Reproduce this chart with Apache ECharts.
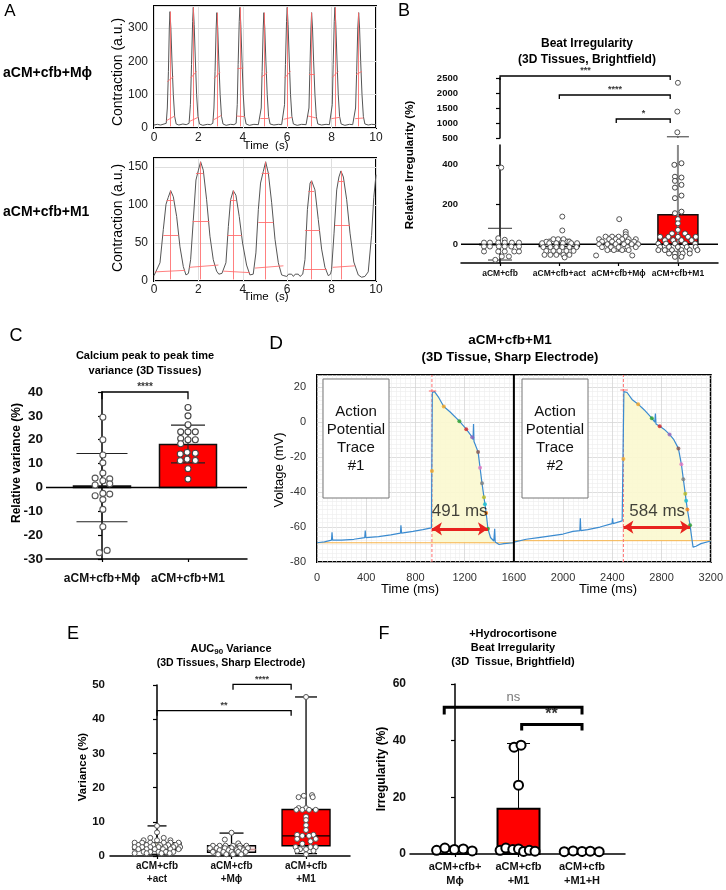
<!DOCTYPE html>
<html>
<head>
<meta charset="utf-8">
<script src="https://cdn.jsdelivr.net/npm/echarts@6.0.0/dist/echarts.min.js"></script>
<style>
html, body { margin: 0; padding: 0; background: #fff; }
#fig { width: 726px; height: 890px; }
</style>
</head>
<body>
<div id="fig"></div>
<script>
var FONT = '"Liberation Sans", Arial, sans-serif';

/* ---------- A : contraction traces (time s, a.u.) ---------- */
var aTopTrace = [
  [0,9],[0.15,11],[0.3,9],[0.45,12],[0.55,14],
  [0.6,60],[0.65,170],[0.69,300],[0.72,349],[0.76,300],[0.81,200],[0.87,100],[0.93,35],[1.0,12],[1.12,9],[1.3,12],[1.45,10],[1.58,14],
  [1.64,70],[1.69,190],[1.74,320],[1.77,362],[1.81,310],[1.86,210],[1.92,100],[1.98,35],[2.05,12],[2.2,8],[2.4,11],[2.55,10],[2.65,14],
  [2.7,60],[2.75,170],[2.8,300],[2.83,346],[2.87,300],[2.92,200],[2.98,100],[3.04,35],[3.11,12],[3.25,8],[3.45,11],[3.6,10],[3.7,14],
  [3.75,70],[3.79,190],[3.84,320],[3.87,362],[3.91,310],[3.96,210],[4.02,100],[4.08,35],[4.15,12],[4.3,8],[4.5,11],[4.7,10],[4.78,14],
  [4.83,60],[4.87,170],[4.92,300],[4.95,346],[4.99,300],[5.04,200],[5.1,100],[5.16,35],[5.23,12],[5.4,9],[5.6,11],[5.75,10],[5.83,14],
  [5.88,70],[5.92,190],[5.97,320],[6.0,362],[6.04,310],[6.09,210],[6.15,100],[6.21,35],[6.28,12],[6.45,8],[6.65,11],[6.85,10],[6.93,14],
  [6.98,60],[7.02,170],[7.07,300],[7.1,346],[7.14,300],[7.19,200],[7.25,100],[7.31,35],[7.38,12],[7.55,9],[7.75,11],[7.9,10],[7.98,14],
  [8.03,70],[8.07,190],[8.12,320],[8.15,362],[8.19,310],[8.24,210],[8.3,100],[8.36,35],[8.43,12],[8.6,8],[8.8,11],[8.95,10],[9.03,14],
  [9.08,60],[9.13,170],[9.18,300],[9.22,346],[9.26,300],[9.31,200],[9.37,100],[9.43,35],[9.5,12],[9.65,9],[9.8,11],[10,10]
];
var aTopPeakT = [0.72, 1.77, 2.83, 3.87, 4.95, 6.0, 7.1, 8.15, 9.22];
var aTopPeakV = [349, 362, 346, 362, 346, 362, 346, 362, 346];
var aTopSegs = [
  [0.60,139,0.87,154],[0.56,22,0.93,36],
  [1.65,150,1.92,170],[1.61,20,1.98,32],
  [2.71,148,2.98,168],[2.67,24,3.04,38],
  [3.75,178,4.02,180],[3.71,36,4.08,34],
  [4.83,152,5.10,166],[4.79,30,5.16,30],
  [5.88,150,6.15,170],[5.84,26,6.21,32],
  [6.98,161,7.25,161],[6.94,36,7.31,30],
  [8.03,152,8.30,170],[7.99,28,8.36,32],
  [9.10,160,9.37,170],[9.06,28,9.43,30]
];

var aBotTrace = [
  [0,7],[0.09,8],[0.27,24],[0.42,68],[0.54,101],[0.64,110],[0.75,119],[0.87,111],[1.02,85],[1.17,45],[1.32,19],[1.44,8],[1.55,10],
  [1.65,28],[1.77,80],[1.89,133],[2.0,146],[2.1,157],[2.22,146],[2.37,107],[2.52,59],[2.67,28],[2.82,13],[2.92,9],[3.0,7],[3.06,10],[3.12,8],
  [3.24,24],[3.35,72],[3.45,107],[3.57,119],[3.69,113],[3.84,85],[3.99,50],[4.17,21],[4.32,8],[4.4,10],[4.47,9],
  [4.59,37],[4.7,94],[4.8,129],[4.92,144],[5.03,157],[5.15,142],[5.3,103],[5.45,55],[5.6,24],[5.75,8],[5.85,7],[5.98,6],[6.06,9],[6.13,7],
  [6.2,9],[6.28,6],[6.36,9],[6.43,7],[6.5,9],[6.58,6],[6.7,9],
  [6.8,28],[6.91,94],[7.03,129],[7.1,132],[7.25,120],[7.4,81],[7.55,42],[7.7,18],[7.85,7],[7.95,9],
  [8.0,15],[8.11,63],[8.23,120],[8.33,137],[8.42,145],[8.53,137],[8.68,107],[8.83,63],[9.0,25],[9.2,8],[9.35,5],[9.5,6],[9.65,12],
  [9.8,60],[9.9,110],[10,140]
];
var aBotPeakT = [0.75, 2.1, 3.57, 5.03, 7.08, 8.42];
var aBotPeakV = [119, 157, 119, 157, 132, 145];
var aBotSegs = [
  [0.57,107,0.87,107],[0.42,60,1.10,60],[0.05,12,1.40,14],
  [1.89,142,2.22,142],[1.74,79,2.49,79],[1.59,18,2.90,21],
  [3.42,107,3.69,107],[3.30,60,3.95,60],[3.12,13,4.32,11],
  [4.85,142,5.20,142],[4.70,78,5.38,78],[4.55,17,5.83,20],
  [6.95,118,7.21,118],[6.80,67,7.48,67],[6.73,16,7.78,16],
  [8.30,131,8.56,131],[8.15,74,8.83,74],[8.05,18,9.05,20]
];

/* ---------- D : action potentials (ms, mV) ---------- */
var apTrace1 = [
  [0,-69],[60,-68.5],[118,-67.5],[122,-63],[127,-67.5],[200,-67.5],[300,-67],[388,-66],[392,-62],[397,-66],[500,-65.5],[600,-64.5],
  [678,-63.5],[682,-59],[687,-63.5],[780,-62.5],[860,-61.5],[930,-60.5],[934,-60],[937,17],[955,17.5],[990,14],[1030,9],[1080,6],
  [1157,0.6],[1213,-4],[1261,-8.6],[1268,-10],[1272,-1],[1276,-11],[1309,-17],[1325,-26],[1341,-35],[1357,-43],[1365,-47],[1375,-52],
  [1389,-61],[1410,-66],[1437,-68],[1444,-61],[1448,-68.5],[1480,-70],[1520,-69.5],[1600,-69]
];
var apTrace2 = [
  [1600,-68.6],[1700,-67],[1800,-66],[1900,-65],[2000,-64],[2080,-62.5],[2136,-62],[2140,-55],[2144,-62],[2200,-61.5],[2300,-60],
  [2398,-58],[2402,-55],[2406,-58],[2480,-56.5],[2490,-56],[2494,17.5],[2520,17],[2560,13],[2610,10.3],[2660,7],[2721,2.3],
  [2745,0],[2750,5],[2755,-1],[2785,-2.3],[2820,-4],[2865,-7],[2900,-10],[2937,-15],[2961,-24],[2977,-32.6],[2993,-41],[3000,-45],
  [3010,-50],[3032,-59],[3045,-66],[3056,-71.5],[3080,-71],[3120,-69.5],[3200,-68]
];
var apUpstroke = [934, 2490];
var apEnd = [1437, 3056];
var apBase = [-69, -67.8];
var apBaseRange = [[0, 1600], [1600, 3200]];
var apPeakTick = [17.8, 18.3];
var apDots1 = [[934,-28],[1030,9],[1157,0.6],[1213,-4],[1261,-8.6],[1309,-17],[1325,-26],[1341,-35],[1357,-43],[1365,-47],[1375,-52],[1389,-61]];
var apDots2 = [[2490,-21],[2610,10.3],[2721,2.3],[2785,-2.3],[2865,-7],[2937,-15],[2961,-24],[2977,-32.6],[2993,-41],[3000,-45],[3010,-50],[3032,-59]];
var apDotColors = ['#f5a623','#f5a623','#2ca02c','#d62728','#9467bd','#8c564b','#e377c2','#7f7f7f','#bcbd22','#17becf','#ff7f0e','#2ca02c'];
var apArrows = [[934, 1389, -61], [2490, 3032, -60]];
var apLabels = ['491 ms', '584 ms'];
var apLabelAt = [[1160, -51], [2765, -51]];

/* ---------- B : beat irregularity ---------- */
var bCats = ['aCM+cfb', 'aCM+cfb+act', 'aCM+cfb+M\u03d5', 'aCM+cfb+M1'];
var bMean = [0, -12, 5, 148];
var bErrLo = [-80, -50, -35, -90];
var bErrHi = [80, 25, 40, 540];
var bDotsCfb = [[0.02,386],[-0.03,30],[0.08,22],
  [-0.27,8],[-0.17,8],[-0.03,8],[0.08,8],[0.2,8],[0.32,8],
  [-0.27,-12],[-0.17,-12],[-0.02,-12],[0.08,-12],[0.19,-12],[0.32,-12],
  [-0.27,-37],[-0.03,-37],[0.08,-37],[0.24,-37],[0.32,-37],
  [0.15,-62],[0.03,-62],[-0.08,-79]];
var bDotsAct = [[0.05,139],[0.05,69],
  [-0.1,25],[-0.02,25],[0.07,25],[-0.22,12],[0.17,12],
  [-0.29,5],[-0.17,5],[-0.05,5],[0.06,5],[0.2,5],[0.3,5],
  [-0.27,-15],[-0.15,-15],[-0.05,-15],[0.05,-15],[0.17,-15],[0.29,-15],
  [-0.22,-34],[-0.1,-34],[0,-34],[0.12,-34],[0.24,-34],
  [-0.25,-54],[-0.15,-54],[-0.05,-54],[0.07,-54],[0.17,-54],[0.09,-67]];
var bDotsMphi = [[0.01,126],[0.12,62],[0.12,50],
  [-0.22,38],[-0.11,38],[0,38],[0.12,38],
  [-0.33,25],[-0.16,25],[-0.05,25],[0.06,25],[0.17,25],[0.29,25],
  [-0.28,13],[-0.11,13],[0,13],[0.15,13],[0.26,13],
  [-0.33,0],[-0.19,0],[-0.05,0],[0.09,0],[0.22,0],[0.33,0],
  [-0.28,-15],[-0.13,-15],[0,-15],[0.15,-15],[0.29,-15],
  [-0.19,-30],[-0.08,-30],[0.06,-30],[0.17,-30],[-0.38,-57],[0.23,-57]];
var bDotsM1 = [[-0.06,400],[0.06,408],[-0.05,340],[0.06,336],[-0.05,319],[0.06,299],[-0.05,285],[0.06,245],[-0.05,232],
  [0.06,164],[-0.05,156],[0,126],[0,105],[0,72],[-0.1,54],[0.12,54],
  [-0.3,37],[-0.16,37],[0,37],[0.17,37],[0.3,37],
  [-0.22,20],[-0.08,20],[0.06,20],[0.23,20],
  [-0.33,3],[-0.2,3],[-0.05,3],[0.12,3],[0.29,3],
  [-0.3,-14],[-0.15,-14],[0,-14],[0.15,-14],[0.3,-14],
  [-0.33,-30],[-0.22,-30],[-0.1,-30],[0.06,-30],[0.2,-30],[0.33,-30],
  [-0.15,-47],[-0.05,-47],[0.08,-47],[0.2,-47],[-0.05,-64],[0.06,-64]];
var bDotsM1High = [[0,2340],[-0.01,1380],[-0.01,690]];
var bBrackets = [[0, 2.87, 2567, 2433], [1, 2.87, 1933, 1800], [1.96, 2.87, 1133, 1000]];
var bStars = [[1.44, 2740, '***'], [1.94, 2110, '****'], [2.42, 1310, '*']];

/* ---------- C : calcium peak-to-peak variance ---------- */
var cCats = ['aCM+cfb+M\u03d5', 'aCM+cfb+M1'];
var cMean = [0.6, 18];
var cErrLo = [-14.4, 10.3];
var cErrHi = [14.2, 26.1];
var cDotsMphi = [[0.01,29.4],[0.01,20],[0.01,13.6],[0.01,10.3],[0.01,6],[-0.08,3.9],[0.09,3.6],[0.01,2.8],
  [-0.08,1],[0.09,1.5],[-0.08,-3.5],[0.01,-2.5],[0.09,-2.8],[0.01,-5.1],[0.01,-9.2],[0.01,-16.5],[0.06,-26.4],[-0.03,-27.4]];
var cDotsM1 = [[0,33.5],[0,30],[0,26.3],[-0.085,23.3],[0,23.3],[0.085,23.3],[-0.085,20.5],[0,20],[0.085,20],
  [-0.085,18.3],[-0.09,14],[-0.01,14.7],[0.085,14.3],[-0.09,11.2],[-0.01,11.8],[0.085,11.3],[0,7.8],[0,3.5]];
var cBracket = [[0, 1, 40, 37]];
var cStars = [[0.5, 41.8, '****']];

/* ---------- E : AUC90 variance (box plots) ---------- */
var eCats = ['aCM+cfb\n+act', 'aCM+cfb\n+M\u03d5', 'aCM+cfb\n+M1'];
var eBox = [[0.5, 1.9, 3.0, 3.9, 8.8], [0.3, 1.1, 1.9, 3.0, 6.7], [0.7, 3.0, 5.9, 13.6, 46.5]];
var eDotsAct = [[0,8.8],[0,6.9],[-0.09,5.3],[0.09,5.3],[-0.18,4.6],[0,4.6],[0.18,4.6],
  [-0.3,3.9],[-0.2,3.9],[-0.09,3.9],[0.09,3.9],[0.18,3.9],[0.29,3.9],
  [-0.25,3.2],[-0.14,3.2],[-0.05,3.2],[0.04,3.2],[0.15,3.2],[0.25,3.2],
  [-0.3,2.6],[-0.2,2.6],[-0.09,2.6],[0.02,2.6],[0.11,2.6],[0.22,2.6],[0.31,2.6],
  [-0.25,2.0],[-0.14,2.0],[-0.03,2.0],[0.08,2.0],[0.18,2.0],[0.29,2.0],
  [-0.18,1.2],[-0.09,1.2],[0.02,1.2],[0.12,1.2],[0.22,1.2],[-0.3,0.8],[-0.14,0.8],[0.06,0.8],[0.17,0.8]];
var eDotsMphi = [[0,6.8],[-0.09,4.8],[0.09,3.7],
  [-0.25,3.0],[-0.16,3.0],[-0.08,3.0],[0.02,3.0],[0.11,3.0],[0.2,3.0],
  [-0.29,2.3],[-0.2,2.3],[-0.09,2.3],[0,2.3],[0.11,2.3],[0.22,2.3],
  [-0.16,1.7],[-0.04,1.7],[0.07,1.7],[0.16,1.7],
  [-0.25,1.2],[-0.11,1.2],[0,1.2],[0.09,1.2],[0.19,1.2],[-0.18,0.5],[-0.07,0.5],[0.02,0.5],[0.13,0.5]];
var eDotsM1 = [[0,46.5],[-0.03,17.6],[0.08,17.8],[-0.1,17.2],[0.09,17.2],
  [-0.1,14],[0,14],[-0.13,13.5],[-0.05,13.5],[0.04,13.5],[0.13,13.5],
  [0,11.5],[0,10.5],[0,9],[0,7.6],[-0.12,6.2],[0.1,6.2],[-0.05,5.9],[0.04,5.9],
  [-0.12,5],[0.13,5],[0.06,4.3],[-0.05,3.6],[-0.14,2.6],[0.06,2.6],[0.13,2.6],
  [-0.08,2],[0,2],[-0.12,1.5],[0.1,1.5],[0,0.5]];
var eBrackets = [[0, 1.8, 42.5, 41], [1.02, 1.8, 50.2, 48.6]];
var eStars = [[0.9, 44.1, '**'], [1.41, 51.7, '****']];

/* ---------- F : hydrocortisone beat irregularity ---------- */
var fCats = ['aCM+cfb+\nM\u03d5', 'aCM+cfb\n+M1', 'aCM+cfb\n+M1+H'];
var fMean = [1.6, 16, 0.9];
var fErrHi = [1.6, 39, 0.9];
var fDotsMphi = [[-0.29,1.3],[-0.16,2.1],[-0.01,1.6],[0.13,1.8],[0.27,1.1]];
var fDotsM1 = [[-0.07,37.7],[0.04,38.4],[0,24.3],[-0.29,1.3],[-0.2,2.1],[-0.09,1.6],[0,1.8],[0.08,0.9],[0.17,1.3],[0.26,1.0]];
var fDotsH = [[-0.28,0.8],[-0.14,1.1],[0,0.9],[0.13,1.0],[0.27,0.8]];
var fBrackets = [[-0.17, 2.0, 51.8, 49.2], [1.05, 2.0, 45.7, 43.6]];

/* ---------- helpers ---------- */
function idx(arr) { return arr.map(function (c, i) { return i; }); }
function plain(v) { return String(v); }

function catXAxis(gi, min, max, cats, margin, size, lh) {
  return {
    type: 'value', gridIndex: gi, min: min, max: max,
    axisLine: { show: true, onZero: false, lineStyle: { color: '#000', width: 1.5 } },
    axisTick: { show: true, length: 3, customValues: idx(cats), lineStyle: { color: '#000', width: 1.2 } },
    axisLabel: { customValues: idx(cats), formatter: function (v) { return cats[Math.round(v)] || ''; },
      margin: margin, fontFamily: FONT, fontWeight: 'bold', fontSize: size, color: '#111', lineHeight: lh },
    splitLine: { show: false }
  };
}

function prismYAxis(gi, min, max, interval, size, margin, extra) {
  return Object.assign({
    type: 'value', gridIndex: gi, min: min, max: max, interval: interval,
    axisLine: { show: true, lineStyle: { color: '#000', width: 1.5 } },
    axisTick: { show: true, length: 4, lineStyle: { color: '#000', width: 1.2 } },
    axisLabel: { margin: margin, fontFamily: FONT, fontWeight: 'bold', fontSize: size, color: '#111', formatter: plain },
    splitLine: { show: false }
  }, extra || {});
}

function dotSeries(gi, ci, pts, size, border, bw, z) {
  return {
    type: 'scatter', xAxisIndex: gi, yAxisIndex: gi, z: z || 5, symbol: 'circle', symbolSize: size,
    data: pts.map(function (p) { return [ci + p[0], p[1]]; }),
    itemStyle: { color: '#fff', borderColor: border, borderWidth: bw, opacity: 1 },
    emphasis: { disabled: true }, silent: true
  };
}

function barSeries(gi, means, w, fills, stroke, lw, z) {
  return {
    type: 'custom', xAxisIndex: gi, yAxisIndex: gi, z: z || 2, silent: true,
    data: means.map(function (m, i) { return [i, m]; }),
    renderItem: function (params, api) {
      var p0 = api.coord([api.value(0), 0]), p1 = api.coord([api.value(0), api.value(1)]);
      return { type: 'rect',
        shape: { x: p0[0] - w / 2, y: Math.min(p0[1], p1[1]), width: w, height: Math.max(Math.abs(p1[1] - p0[1]), 0.5) },
        style: { fill: fills[params.dataIndex], stroke: stroke, lineWidth: lw } };
    }
  };
}

function errSeries(gi, xs, lo, hi, capHi, capLo, color, lw, z) {
  return {
    type: 'custom', xAxisIndex: gi, yAxisIndex: gi, z: z || 3, silent: true,
    data: lo.map(function (l, i) { return [xs[i], l, hi[i]]; }),
    renderItem: function (params, api) {
      var i = params.dataIndex, x = api.value(0);
      var a = api.coord([x, api.value(1)]), b = api.coord([x, api.value(2)]);
      var st = { stroke: color, lineWidth: lw };
      var ch = [{ type: 'line', shape: { x1: a[0], y1: a[1], x2: b[0], y2: b[1] }, style: st }];
      if (capHi[i]) ch.push({ type: 'line', shape: { x1: b[0] - capHi[i] / 2, y1: b[1], x2: b[0] + capHi[i] / 2, y2: b[1] }, style: st });
      if (capLo[i]) ch.push({ type: 'line', shape: { x1: a[0] - capLo[i] / 2, y1: a[1], x2: a[0] + capLo[i] / 2, y2: a[1] }, style: st });
      return { type: 'group', children: ch };
    }
  };
}

function bracketSeries(gi, list, lw) {
  return {
    type: 'lines', coordinateSystem: 'cartesian2d', xAxisIndex: gi, yAxisIndex: gi, polyline: true, z: 6, clip: false, silent: true,
    data: list.map(function (b) { return { coords: [[b[0], b[3]], [b[0], b[2]], [b[1], b[2]], [b[1], b[3]]] }; }),
    lineStyle: { color: '#000', width: lw, opacity: 1 }
  };
}

function textSeries(gi, list, font) {
  return {
    type: 'scatter', xAxisIndex: gi, yAxisIndex: gi, z: 7, symbolSize: 1, clip: false, silent: true,
    itemStyle: { color: 'rgba(0,0,0,0)' },
    data: list.map(function (t) { return { value: [t[0], t[1]], label: { formatter: t[2] } }; }),
    label: Object.assign({ show: true, position: 'inside', color: '#000', fontFamily: FONT }, font)
  };
}

function hLine(gi, x1, x2, y, color, w, z, type) {
  return { type: 'line', xAxisIndex: gi, yAxisIndex: gi, data: [[x1, y], [x2, y]], symbol: 'none', silent: true,
    lineStyle: { color: color, width: w, type: type || 'solid' }, z: z || 4 };
}

function redMarks(gi, peakT, peakV, base, segs) {
  var d = peakT.map(function (t, i) { return { coords: [[t, base], [t, peakV[i]]] }; });
  segs.forEach(function (s) { d.push({ coords: [[s[0], s[1]], [s[2], s[3]]] }); });
  return { type: 'lines', coordinateSystem: 'cartesian2d', xAxisIndex: gi, yAxisIndex: gi, z: 4, silent: true,
    data: d, lineStyle: { color: '#ff6a6a', width: 1, opacity: 0.85 } };
}

/* ---------- axes ---------- */
var aXAxis = function (gi, margin) {
  return { type: 'value', gridIndex: gi, min: 0, max: 10, interval: 2,
    axisLine: { show: false }, axisTick: { show: false },
    axisLabel: { margin: margin, fontFamily: FONT, fontSize: 12, color: '#222' },
    splitLine: { show: true, lineStyle: { color: '#dedede', width: 1 } } };
};
var aYAxis = function (gi, max, interval) {
  return { type: 'value', gridIndex: gi, min: 0, max: max, interval: interval,
    axisLine: { show: false }, axisTick: { show: false },
    axisLabel: { margin: 6, fontFamily: FONT, fontSize: 12, color: '#222', showMaxLabel: false },
    splitLine: { show: true, lineStyle: { color: '#dedede', width: 1 } } };
};

var xAxes = [
  aXAxis(0, 4),
  aXAxis(1, 3),
  { type: 'value', gridIndex: 2, min: -0.658, max: 3.676, show: false },
  catXAxis(3, -0.658, 3.676, bCats, 6, 8.5, 10),
  catXAxis(4, -0.651, 1.686, cCats, 13, 12, 14),
  { type: 'value', gridIndex: 5, min: 0, max: 3200, interval: 400,
    axisLine: { show: false }, axisTick: { show: false },
    axisLabel: { margin: 10, fontFamily: FONT, fontSize: 11, color: '#333', formatter: plain },
    minorTick: { show: false, splitNumber: 10 },
    splitLine: { show: true, lineStyle: { color: '#d6d6d6', width: 0.8 } },
    minorSplitLine: { show: true, lineStyle: { color: '#ececec', width: 0.6 } } },
  catXAxis(6, -0.631, 2.59, eCats, 4, 10, 13),
  catXAxis(7, -0.709, 2.677, fCats, 6, 11, 14)
];

var yAxes = [
  aYAxis(0, 366, 100),
  aYAxis(1, 162, 50),
  prismYAxis(2, 500, 2500, 500, 9.5, 3),
  prismYAxis(3, -95, 500, null, 9.5, 3, {
    axisTick: { show: true, length: 4, customValues: [0, 200, 400], lineStyle: { color: '#000', width: 1.2 } },
    axisLabel: { customValues: [0, 200, 400], margin: 3, fontFamily: FONT, fontWeight: 'bold', fontSize: 9.5, color: '#111' } }),
  prismYAxis(4, -30, 40, 10, 13.5, 3),
  { type: 'value', gridIndex: 5, min: -80, max: 27, interval: 20,
    axisLine: { show: false }, axisTick: { show: false },
    axisLabel: { margin: 11, fontFamily: FONT, fontSize: 11, color: '#333', showMaxLabel: false },
    minorTick: { show: false, splitNumber: 8 },
    splitLine: { show: true, lineStyle: { color: '#d6d6d6', width: 0.8 } },
    minorSplitLine: { show: true, lineStyle: { color: '#ececec', width: 0.6 } } },
  prismYAxis(6, 0, 50, 10, 11.5, 5),
  prismYAxis(7, 0, 60, 20, 12, 4)
];

var grids = [
  { left: 154, top: 6, width: 222, height: 122, show: true, borderColor: '#000', borderWidth: 2 },
  { left: 154, top: 158, width: 222, height: 123, show: true, borderColor: '#000', borderWidth: 2 },
  { left: 461, top: 78, width: 257, height: 60 },
  { left: 461, top: 145, width: 257, height: 118 },
  { left: 46, top: 392, width: 201, height: 167 },
  { left: 317, top: 375, width: 401, height: 187, show: true, borderColor: '#000', borderWidth: 2 },
  { left: 110, top: 685, width: 240, height: 171 },
  { left: 410, top: 684, width: 215, height: 170 }
];

/* ---------- series ---------- */
var series = [];

// A
series.push({ type: 'line', xAxisIndex: 0, yAxisIndex: 0, data: aTopTrace, symbol: 'none', silent: true,
  lineStyle: { color: '#555', width: 1 }, z: 3 });
series.push(redMarks(0, aTopPeakT, aTopPeakV, 5, aTopSegs));
series.push({ type: 'line', xAxisIndex: 1, yAxisIndex: 1, data: aBotTrace, symbol: 'none', silent: true,
  lineStyle: { color: '#555', width: 1 }, z: 3 });
series.push(redMarks(1, aBotPeakT, aBotPeakV, 2, aBotSegs));

// B
series.push(hLine(3, -0.658, 3.676, 0, '#000', 1.5, 4));
series.push(barSeries(3, bMean, 40, ['none', 'none', 'none', '#ff0000'], '#111', 1.5, 2));
series.push(errSeries(3, [0, 1, 2], bErrLo.slice(0, 3), bErrHi.slice(0, 3), [24, 22, 22], [24, 22, 22], '#333', 1, 3));
series.push(errSeries(3, [3], [bErrLo[3]], [500], [0], [0], '#8a8a8a', 2, 3));
series.push(errSeries(2, [3], [500], [bErrHi[3]], [22], [0], '#333', 1, 3));
series.push(dotSeries(3, 0, bDotsCfb, 5, '#555', 1));
series.push(dotSeries(3, 1, bDotsAct, 5, '#555', 1));
series.push(dotSeries(3, 2, bDotsMphi, 5, '#555', 1));
series.push(dotSeries(3, 3, bDotsM1, 5, '#444', 1));
series.push(dotSeries(2, 3, bDotsM1High, 5, '#555', 1));
series.push(bracketSeries(2, bBrackets, 1.3));
series.push(textSeries(2, bStars, { fontSize: 9, fontWeight: 'bold' }));

// C
series.push(barSeries(4, cMean, 57, ['#fff', '#ff0000'], '#111', 1.5, 2));
series.push(hLine(4, -0.651, 1.686, 0, '#000', 1.5, 4));
series.push(errSeries(4, [0, 1], cErrLo, cErrHi, [51, 34], [51, 34], '#222', 1.1, 3));
series.push(dotSeries(4, 0, cDotsMphi, 6, '#555', 1.1));
series.push(dotSeries(4, 1, cDotsM1, 6, '#444', 1.1));
series.push(bracketSeries(4, cBracket, 1.3));
series.push(textSeries(4, cStars, { fontSize: 10, fontWeight: 'bold' }));

// D
function apFill(trace, k) {
  var pts = trace.filter(function (p) { return p[0] >= apUpstroke[k] && p[0] <= apEnd[k]; });
  pts = pts.concat([[apEnd[k], apBase[k]], [apUpstroke[k], apBase[k]]]);
  return { type: 'custom', xAxisIndex: 5, yAxisIndex: 5, z: 2, silent: true, data: [[apUpstroke[k], apBase[k]]],
    renderItem: function (params, api) {
      return { type: 'polygon', shape: { points: pts.map(function (p) { return api.coord(p); }) },
        style: { fill: '#fbf8cf', opacity: 0.9 } };
    } };
}
series.push(apFill(apTrace1, 0));
series.push(apFill(apTrace2, 1));
apBase.forEach(function (b, k) {
  series.push(hLine(5, apBaseRange[k][0], apBaseRange[k][1], b, '#f7b34a', 1, 3));
  series.push({ type: 'line', xAxisIndex: 5, yAxisIndex: 5, data: [[apUpstroke[k], -80], [apUpstroke[k], 27]], symbol: 'none',
    silent: true, lineStyle: { color: '#ff7070', width: 1, type: [3, 2] }, z: 3 });
});
[apTrace1, apTrace2].forEach(function (tr) {
  series.push({ type: 'line', xAxisIndex: 5, yAxisIndex: 5, data: tr, symbol: 'none', silent: true,
    lineStyle: { color: '#3b8bd0', width: 1.2 }, z: 4 });
});
[apDots1, apDots2].forEach(function (ds) {
  series.push({ type: 'scatter', xAxisIndex: 5, yAxisIndex: 5, symbolSize: 4, z: 5, silent: true,
    data: ds.map(function (p, i) { return { value: p, itemStyle: { color: apDotColors[i] } }; }) });
});
series.push({ type: 'lines', coordinateSystem: 'cartesian2d', xAxisIndex: 5, yAxisIndex: 5, z: 6, silent: true,
  data: apUpstroke.map(function (u, k) { return { coords: [[u - 25, apPeakTick[k]], [u + 35, apPeakTick[k]]] }; }),
  lineStyle: { color: '#ff3b3b', width: 1.5 } });
series.push({ type: 'lines', coordinateSystem: 'cartesian2d', xAxisIndex: 5, yAxisIndex: 5, z: 7, silent: true,
  symbol: ['arrow', 'arrow'], symbolSize: 10,
  data: apArrows.map(function (a) { return { coords: [[a[0], a[2]], [a[1], a[2]]] }; }),
  lineStyle: { color: '#e8231e', width: 3, opacity: 1 } });
series.push(textSeries(5, apLabels.map(function (t, k) { return [apLabelAt[k][0], apLabelAt[k][1], t]; }),
  { fontSize: 17, color: '#111' }));
series.push({ type: 'line', xAxisIndex: 5, yAxisIndex: 5, data: [[1600, -80], [1600, 27]], symbol: 'none', silent: true,
  lineStyle: { color: '#000', width: 2 }, z: 8 });

// E
series.push({
  type: 'custom', xAxisIndex: 6, yAxisIndex: 6, z: 2, silent: true,
  data: eBox.map(function (b, i) { return [i].concat(b); }),
  renderItem: function (params, api) {
    var i = params.dataIndex, x = api.value(0), w = 48, cap = [19, 24, 22][i];
    var fills = ['#efe9cc', '#f7e8e8', '#ff0000'], meds = ['#9a8f6a', '#d59a9a', '#000'];
    var p = [1, 2, 3, 4, 5].map(function (d) { return api.coord([x, api.value(d)]); });
    var st = { stroke: '#000', lineWidth: 1.3 };
    return { type: 'group', children: [
      { type: 'line', shape: { x1: p[0][0], y1: p[0][1], x2: p[1][0], y2: p[1][1] }, style: st },
      { type: 'line', shape: { x1: p[3][0], y1: p[3][1], x2: p[4][0], y2: p[4][1] }, style: st },
      { type: 'line', shape: { x1: p[0][0] - cap / 2, y1: p[0][1], x2: p[0][0] + cap / 2, y2: p[0][1] }, style: st },
      { type: 'line', shape: { x1: p[4][0] - cap / 2, y1: p[4][1], x2: p[4][0] + cap / 2, y2: p[4][1] }, style: st },
      { type: 'rect', shape: { x: p[1][0] - w / 2, y: p[3][1], width: w, height: p[1][1] - p[3][1] },
        style: { fill: fills[i], stroke: '#000', lineWidth: 1.3 } },
      { type: 'line', shape: { x1: p[2][0] - w / 2, y1: p[2][1], x2: p[2][0] + w / 2, y2: p[2][1] },
        style: { stroke: meds[i], lineWidth: 1.3 } }
    ] };
  }
});
series.push(dotSeries(6, 0, eDotsAct, 5, '#555', 1));
series.push(dotSeries(6, 1, eDotsMphi, 5, '#555', 1));
series.push(dotSeries(6, 2, eDotsM1, 5, '#555', 1));
series.push(bracketSeries(6, eBrackets, 1.3));
series.push(textSeries(6, eStars, { fontSize: 9, fontWeight: 'bold' }));

// F
series.push(barSeries(7, fMean, 42, ['#fff', '#ff0000', '#fff'], '#000', 2, 2));
series.push(errSeries(7, [1], [fMean[1]], [fErrHi[1]], [23], [0], '#000', 1, 3));
series.push(dotSeries(7, 0, fDotsMphi, 9, '#000', 2));
series.push(dotSeries(7, 1, fDotsM1, 9, '#000', 2));
series.push(dotSeries(7, 2, fDotsH, 9, '#000', 2));
series.push(bracketSeries(7, fBrackets, 3));
series.push(textSeries(7, [[0.92, 55.3, 'ns']], { fontSize: 13, color: '#555' }));
series.push(textSeries(7, [[1.52, 49.3, '**']], { fontSize: 16, fontWeight: 'bold' }));

/* ---------- static text ---------- */
function txt(x, y, s, size, weight, align, extra) {
  return Object.assign({ type: 'text', x: x, y: y, silent: true, z: 100,
    style: { text: s, fontFamily: FONT, fontSize: size, fontWeight: weight || 'normal', fill: '#000',
      align: align || 'center', verticalAlign: 'middle' } }, extra || {});
}
function vtxt(x, y, s, size, weight) {
  return txt(x, y, s, size, weight, 'center', { rotation: Math.PI / 2 });
}
function apBox(x, k) {
  return { type: 'group', silent: true, z: 100, children: [
    { type: 'rect', z: 100, shape: { x: x, y: 379, width: 66, height: 119 },
      style: { fill: '#fff', stroke: '#777', lineWidth: 1 } },
    { type: 'text', z: 101, x: x + 33, y: 439, style: { text: 'Action\nPotential\nTrace\n#' + k, fontFamily: FONT, fontSize: 15,
      lineHeight: 18, fill: '#111', align: 'center', verticalAlign: 'middle' } }
  ] };
}

var graphics = [
  txt(10, 11, 'A', 17), txt(404, 11, 'B', 18), txt(16, 336, 'C', 18),
  txt(276, 344, 'D', 19), txt(73, 634, 'E', 18), txt(384, 634, 'F', 18),
  txt(3, 73, 'aCM+cfb+M\u03d5', 14, 'bold', 'left'),
  txt(3, 212, 'aCM+cfb+M1', 14, 'bold', 'left'),
  vtxt(118, 72, 'Contraction (a.u.)', 14), vtxt(118, 218, 'Contraction (a.u.)', 14),
  txt(266, 146, 'Time  (s)', 11.5), txt(266, 297, 'Time  (s)', 11.5),
  txt(587, 44, 'Beat Irregularity', 12, 'bold'), txt(587, 60, '(3D Tissues, Brightfield)', 12, 'bold'),
  vtxt(410, 165, 'Relative Irregularity (%)', 11.5, 'bold'),
  txt(145, 356, 'Calcium peak to peak time', 11, 'bold'), txt(145, 371, 'variance (3D Tissues)', 11, 'bold'),
  vtxt(17, 463, 'Relative variance (%)', 12, 'bold'),
  txt(510, 340, 'aCM+cfb+M1', 13.5, 'bold'), txt(510, 357, '(3D Tissue, Sharp Electrode)', 13, 'bold'),
  vtxt(279, 470, 'Voltage (mV)', 13), txt(410, 589, 'Time (ms)', 13), txt(608, 589, 'Time (ms)', 13),
  apBox(323, 1), apBox(522, 2),
  { type: 'text', x: 231, y: 649, silent: true, z: 100, style: { text: '{a|AUC}{s|90}{a| Variance}',
      align: 'center', verticalAlign: 'middle',
      rich: { a: { fontFamily: FONT, fontSize: 11, fontWeight: 'bold', fill: '#000' },
              s: { fontFamily: FONT, fontSize: 8, fontWeight: 'bold', fill: '#000', padding: [5, 0, 0, 0] } } } },
  txt(231, 663, '(3D Tissues, Sharp Electrode)', 10.5, 'bold'),
  vtxt(83, 767, 'Variance (%)', 11.5, 'bold'),
  txt(513, 634, '+Hydrocortisone', 11, 'bold'), txt(513, 648, 'Beat Irregularity', 11, 'bold'),
  txt(513, 662, '(3D  Tissue, Brightfield)', 11, 'bold'),
  vtxt(382, 769, 'Irregularity (%)', 12, 'bold')
];

var chart = echarts.init(document.getElementById('fig'), null, { renderer: 'canvas' });
chart.setOption({
  animation: false,
  backgroundColor: '#fff',
  grid: grids,
  xAxis: xAxes,
  yAxis: yAxes,
  series: series,
  graphic: graphics
});
</script>
</body>
</html>
